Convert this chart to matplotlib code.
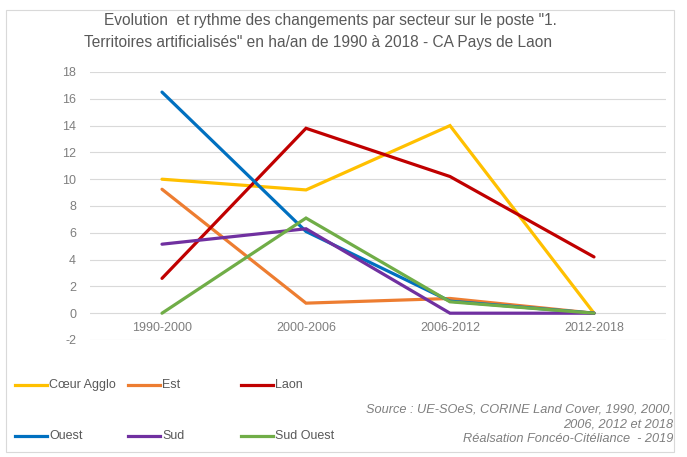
import matplotlib
matplotlib.use("Agg")
import matplotlib.pyplot as plt
from matplotlib.lines import Line2D
from matplotlib.patches import Rectangle

plt.rcParams['font.family'] = ['Liberation Sans', 'DejaVu Sans']

categories = ["1990-2000", "2000-2006", "2006-2012", "2012-2018"]
coeur_agglo = [10.0, 9.2, 14.0, 0.0]
est = [9.25, 0.75, 1.1, 0.0]
laon = [2.6, 13.8, 10.2, 4.2]
ouest = [16.5, 6.1, 0.9, 0.0]
sud = [5.15, 6.3, 0.0, 0.0]
sud_ouest = [0.0, 7.1, 0.85, 0.0]

series = [
    ("Cœur Agglo", coeur_agglo, "#FFC000"),
    ("Est", est, "#ED7D31"),
    ("Laon", laon, "#C00000"),
    ("Ouest", ouest, "#0070C0"),
    ("Sud", sud, "#7030A0"),
    ("Sud Ouest", sud_ouest, "#70AD47"),
]
yticks = list(range(-2, 19, 2))

W, H = 687, 457
fig = plt.figure(figsize=(W / 100, H / 100), dpi=100)
fig.patches.append(Rectangle((6 / W, 1 - 452 / H), 668 / W, 442 / H, transform=fig.transFigure,
                             fill=False, edgecolor="#D9D9D9", linewidth=0.8))

ax = fig.add_axes([90 / W, 1 - 340 / H, 576 / W, 268 / H])
x = list(range(len(categories)))
for name, vals, col in series:
    ax.plot(x, vals, color=col, linewidth=2.3, solid_capstyle="round", solid_joinstyle="miter", zorder=3)

ax.set_xlim(-0.5, 3.5)
ax.set_ylim(-2, 18)
ax.set_yticks(yticks)
ax.set_yticklabels([str(v) for v in yticks])
ax.set_xticks(x)
ax.set_xticklabels(categories)
ax.grid(axis="y", color="#D9D9D9", linewidth=0.8)
ax.set_axisbelow(True)
for s in ax.spines.values():
    s.set_visible(False)
ax.spines['bottom'].set_position(('data', 0))
ax.tick_params(axis="both", length=0, labelsize=9, labelcolor="#7F7F7F")
ax.tick_params(axis="x", pad=6)
ax.tick_params(axis="y", pad=10)

fig.text(330 / W, 1 - 21 / H, 'Evolution  et rythme des changements par secteur sur le poste "1.',
         ha="center", va="center", fontsize=11.2, color="#595959")
fig.text(318 / W, 1 - 42 / H, 'Territoires artificialisés" en ha/an de 1990 à 2018 - CA Pays de Laon',
         ha="center", va="center", fontsize=11.2, color="#595959")

# legend
leg_pos = [(15, 385), (128, 385), (241, 385), (15, 436), (128, 436), (241, 436)]
for (name, vals, col), (lx, ly) in zip(series, leg_pos):
    fig.add_artist(Line2D([lx / W, (lx + 32) / W], [1 - ly / H, 1 - ly / H], color=col,
                          linewidth=2.3, transform=fig.transFigure))
    fig.text((lx + 34) / W, 1 - ly / H, name, ha="left", va="center", fontsize=9, color="#595959")

src = ["Source : UE-SOeS, CORINE Land Cover, 1990, 2000,", "2006, 2012 et 2018",
       "Réalsation Foncéo-Citéliance  - 2019"]
for i, t in enumerate(src):
    fig.text(673 / W, 1 - (410 + 14.5 * i) / H, t, ha="right", va="center", fontsize=9.2,
             style="italic", color="#7F7F7F")

fig.savefig("out.png", dpi=100)
